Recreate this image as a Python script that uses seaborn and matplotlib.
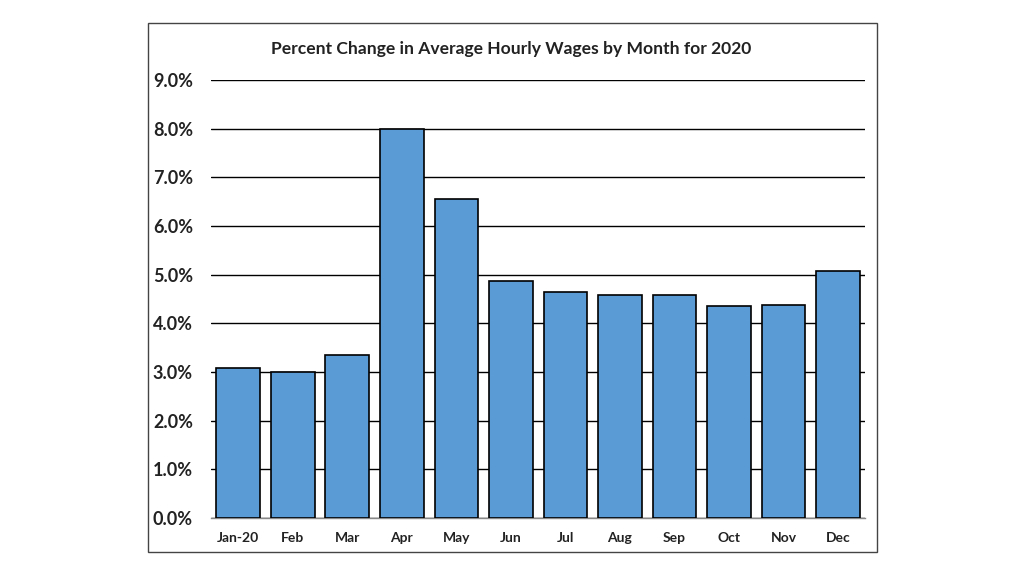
import matplotlib
matplotlib.use("Agg")
import matplotlib.pyplot as plt
import seaborn as sns
import pandas as pd
from matplotlib.patches import Rectangle
from matplotlib.ticker import FuncFormatter

# Data
months = ['Jan-20', 'Feb', 'Mar', 'Apr', 'May', 'Jun', 'Jul', 'Aug', 'Sep', 'Oct', 'Nov', 'Dec']
pct_change = [3.08, 2.99, 3.35, 7.99, 6.56, 4.86, 4.64, 4.59, 4.59, 4.35, 4.38, 5.08]
y_ticks = [0, 1, 2, 3, 4, 5, 6, 7, 8, 9]

df = pd.DataFrame({'Month': months, 'Change': pct_change})

sns.set_style('white')
plt.rcParams['font.family'] = ['Lato', 'DejaVu Sans']

fig = plt.figure(figsize=(10.24, 5.76), dpi=100)
ax = fig.add_axes([0.206, 0.101, 0.639, 0.760])

sns.barplot(x='Month', y='Change', data=df, color='#5B9BD5', saturation=1,
            width=0.8, edgecolor='black', linewidth=1.2, ax=ax, zorder=3)

ax.set_ylim(0, 9)
ax.set_xlim(-0.5, 11.5)
ax.set_yticks(y_ticks)
ax.yaxis.set_major_formatter(FuncFormatter(lambda v, p: f'{v:.1f}%'))
ax.grid(axis='y', color='black', linewidth=1.0, zorder=0)
ax.set_axisbelow(True)

for side in ['left', 'right', 'top']:
    ax.spines[side].set_visible(False)
ax.spines['bottom'].set_color('#888888')
ax.spines['bottom'].set_linewidth(1.0)

ax.tick_params(axis='y', length=0, pad=13, labelsize=13)
ax.tick_params(axis='x', length=0, pad=10, labelsize=10)
for lbl in ax.get_xticklabels() + ax.get_yticklabels():
    lbl.set_fontweight('bold')
    lbl.set_color('#222222')

ax.set_xlabel('')
ax.set_ylabel('')

fig.text(0.499, 0.915, 'Percent Change in Average Hourly Wages by Month for 2020',
         ha='center', va='center', fontsize=12.6, fontweight='bold', color='#222222')

# Outer chart border
fig.patches.append(Rectangle((148 / 1024, 1 - 552 / 576), (877 - 148) / 1024, (552 - 23) / 576,
                             transform=fig.transFigure, fill=False,
                             edgecolor='#444444', linewidth=1.0))

plt.savefig('out.png', dpi=100)
